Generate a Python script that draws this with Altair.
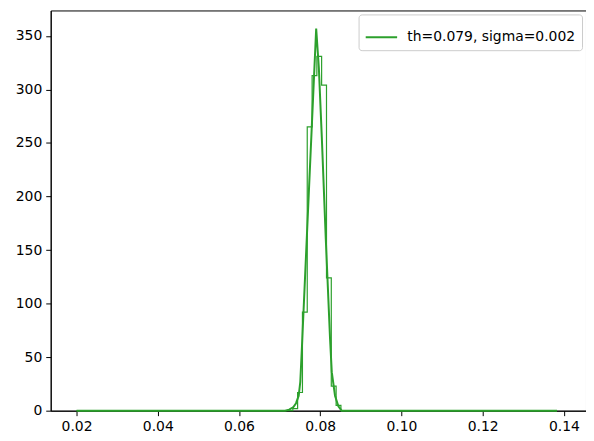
import altair as alt
import pandas as pd

# Histogram (step outline): bin edges and densities
hist_edges = [0.07325, 0.07443, 0.07562, 0.07680, 0.07800, 0.07917,
              0.08034, 0.08154, 0.08272, 0.08391, 0.08509]
hist_vals = [2, 17, 92, 265, 313, 331, 304, 124, 23, 5]
hist_start = 0.0200
hist_end = 0.1383

# Fitted curve points
curve_x = [0.0200, 0.07135, 0.07233, 0.07330, 0.07404, 0.07470, 0.07509,
           0.07550, 0.07672, 0.07795, 0.07900, 0.07966, 0.08039, 0.08137,
           0.08242, 0.08284, 0.08364, 0.08447, 0.08528, 0.1383]
curve_y = [0, 0, 1, 3, 7, 14, 27, 60, 164, 268, 357, 320, 255, 160,
           67, 36, 14, 4, 0, 0]

label = "th=0.079, sigma=0.002"
x_ticks = [0.02, 0.04, 0.06, 0.08, 0.10, 0.12, 0.14]
y_ticks = [0, 50, 100, 150, 200, 250, 300, 350]

GREEN = "#2ca02c"
FONT = "DejaVu Sans"

# Build step outline table
hx = [hist_start] + hist_edges[:-1] + [hist_edges[-1], hist_end]
hy = [0] + hist_vals + [0, 0]
hist_df = pd.DataFrame({"x": hx, "y": hy, "o": range(len(hx))})
curve_df = pd.DataFrame({"x": curve_x, "y": curve_y, "s": [label] * len(curve_x),
                         "o": range(len(curve_x))})

xscale = alt.Scale(domain=[0.01364, 0.14543], nice=False, zero=False)
yscale = alt.Scale(domain=[0, 373.8], nice=False)

xaxis = alt.Axis(values=x_ticks, format=".2f", title=None, grid=False)
yaxis = alt.Axis(values=y_ticks, format="d", title=None, grid=False)

hist = alt.Chart(hist_df).mark_line(
    interpolate="step-after", color=GREEN, strokeWidth=1.2
).encode(
    x=alt.X("x:Q", scale=xscale, axis=xaxis),
    y=alt.Y("y:Q", scale=yscale, axis=yaxis),
    order="o:Q",
)

curve = alt.Chart(curve_df).mark_line(strokeWidth=2).encode(
    x=alt.X("x:Q", scale=xscale, axis=xaxis),
    y=alt.Y("y:Q", scale=yscale, axis=yaxis),
    order="o:Q",
    color=alt.Color(
        "s:N",
        scale=alt.Scale(domain=[label], range=[GREEN]),
        legend=alt.Legend(
            title=None, orient="top-right", offset=4,
            symbolType="stroke", symbolSize=1000, symbolStrokeWidth=2,
            labelFontSize=14, labelFont=FONT, labelColor="#000",
            labelLimit=400,
            strokeColor="#cccccc", fillColor="white", cornerRadius=3,
            padding=6, labelOffset=9,
        ),
    ),
)

chart = alt.layer(hist, curve).properties(
    width=539, height=403,
    background="white",
    padding={"left": 7, "top": 1, "right": 0, "bottom": 0},
).configure_view(
    stroke="#000", strokeWidth=1
).configure_axis(
    domainColor="#000", tickColor="#000", tickSize=5, labelPadding=4,
    labelFont=FONT, labelFontSize=14, labelColor="#000",
    domainWidth=1, tickWidth=1,
)

chart.save("out.html", embed_options={"renderer": "svg", "actions": False})
